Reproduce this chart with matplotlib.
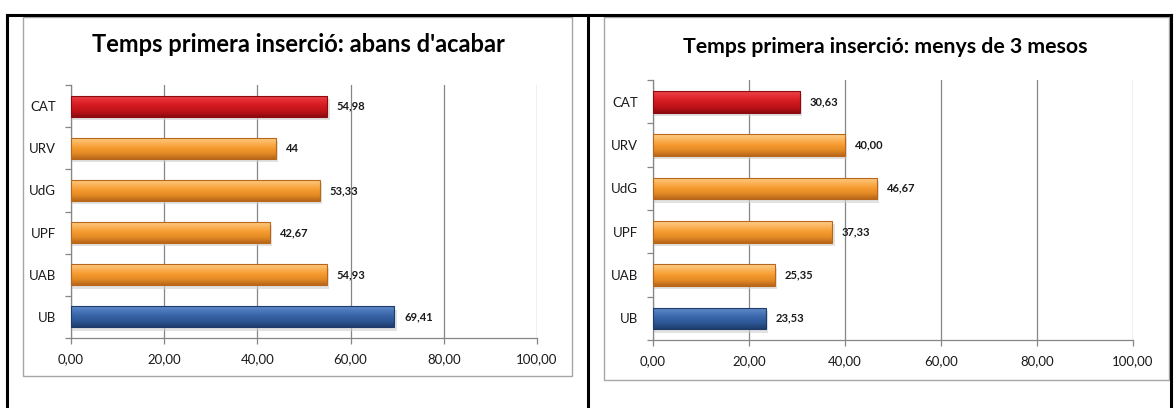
import matplotlib
matplotlib.use("Agg")
import matplotlib.pyplot as plt
import numpy as np
from matplotlib.colors import LinearSegmentedColormap
from matplotlib.patches import Rectangle
from matplotlib.lines import Line2D

# ---------------- data ----------------
categories = ["UB", "UAB", "UPF", "UdG", "URV", "CAT"]
values_left = [69.41, 54.93, 42.67, 53.33, 44, 54.98]
labels_left = ["69,41", "54,93", "42,67", "53,33", "44", "54,98"]
values_right = [23.53, 25.35, 37.33, 46.67, 40.00, 30.63]
labels_right = ["23,53", "25,35", "37,33", "46,67", "40,00", "30,63"]
bar_kinds = ["blue", "orange", "orange", "orange", "orange", "red"]
title_left = "Temps primera inserció: abans d'acabar"
title_right = "Temps primera inserció: menys de 3 mesos"
xticks = [0, 20, 40, 60, 80, 100]
xtick_labels = ["0,00", "20,00", "40,00", "60,00", "80,00", "100,00"]

# gradient stops (top -> bottom) for the bevelled bars
grads = {
    "red": ["#e8474d", "#e42a31", "#d11920", "#bd1219", "#8c0b10"],
    "orange": ["#fcd08e", "#fbb45a", "#f59a2e", "#e38a25", "#b8661a"],
    "blue": ["#6a90cc", "#4a78bb", "#3663a6", "#2c5592", "#1e3c6a"],
}
edge = {"red": "#8c0b10", "orange": "#b8661a", "blue": "#1e3c6a"}

W, H = 1174, 408
fig = plt.figure(figsize=(W / 100, H / 100), dpi=100)
plt.rcParams["font.family"] = ["Lato", "DejaVu Sans"]

def fx(px):
    return px / W

def fy(py):
    return 1 - py / H

# outer table lines
for (x0, y0, x1, y1) in [(7, 15, 1171, 15), (7, 15, 7, 408), (588, 15, 588, 408), (1171, 15, 1171, 408)]:
    fig.add_artist(Line2D([fx(x0), fx(x1)], [fy(y0), fy(y1)], color="black", lw=2.2,
                          transform=fig.transFigure))

# chart frames
for (x0, y0, x1, y1) in [(23, 17, 572, 376), (604, 17, 1169, 380)]:
    fig.add_artist(Rectangle((fx(x0), fy(y1)), fx(x1 - x0), (y1 - y0) / H,
                             transform=fig.transFigure, fill=False,
                             edgecolor="#a6a6a6", lw=1.0))


def draw_chart(rect, values, labels, title, title_xy, title_size):
    ax = fig.add_axes(rect)
    y = np.arange(len(categories))
    bars = ax.barh(y, values, height=0.5, color="none", edgecolor="none", zorder=3)
    for b, kind in zip(bars, bar_kinds):
        x0, y0 = b.get_x(), b.get_y()
        w, h = b.get_width(), b.get_height()
        # light shadow under bar
        ax.add_patch(Rectangle((x0, y0 - 0.08), w + 0.5, h, facecolor="#d0d0d0",
                               edgecolor="none", alpha=0.6, zorder=2))
        cmap = LinearSegmentedColormap.from_list(kind, grads[kind][::-1])
        grad = np.linspace(0, 1, 64).reshape(-1, 1)
        im = ax.imshow(grad, cmap=cmap, aspect="auto", origin="lower",
                       extent=(x0, x0 + w, y0, y0 + h), zorder=3, interpolation="bicubic")
        clip = Rectangle((x0, y0), w, h, transform=ax.transData)
        im.set_clip_path(clip)
        ax.add_patch(Rectangle((x0, y0), w, h, facecolor="none", edgecolor=edge[kind],
                               lw=0.8, zorder=4))
    for yi, v, lab in zip(y, values, labels):
        ax.annotate(lab, (v, yi), xytext=(7, 0), textcoords="offset points",
                    va="center", ha="left", fontsize=8, fontweight="bold",
                    color="#1a1a1a", zorder=5)
    ax.set_xlim(0, 100)
    ax.set_ylim(-0.5, len(categories) - 0.5)
    ax.set_xticks(xticks)
    ax.set_xticklabels(xtick_labels, fontsize=9.5, color="#1a1a1a")
    ax.set_yticks(y)
    ax.set_yticklabels(categories, fontsize=9.5, color="#1a1a1a")
    ax.set_yticks(np.arange(len(categories) + 1) - 0.5, minor=True)
    ax.tick_params(axis="y", which="major", length=0, pad=11)
    ax.tick_params(axis="y", which="minor", length=4, color="#868686", width=0.9)
    ax.tick_params(axis="x", which="major", length=4, color="#868686", width=0.9, pad=7)
    ax.xaxis.grid(True, color="#868686", lw=0.9, zorder=0)
    ax.set_axisbelow(True)
    for s in ["top", "right"]:
        ax.spines[s].set_visible(False)
    for s in ["left", "bottom"]:
        ax.spines[s].set_color("#868686")
        ax.spines[s].set_linewidth(0.9)
    ax.set_facecolor("none")
    fig.text(fx(title_xy[0]), fy(title_xy[1]), title, ha="center", va="center",
             fontsize=title_size, fontweight="bold", color="black")
    return ax


draw_chart([fx(71), fy(338), fx(537 - 71), (338 - 85) / H], values_left, labels_left,
           title_left, (298, 45), 17)
draw_chart([fx(653), fy(340), fx(1133 - 653), (340 - 80) / H], values_right, labels_right,
           title_right, (885, 47), 15.3)

fig.savefig("out.png", dpi=100)
